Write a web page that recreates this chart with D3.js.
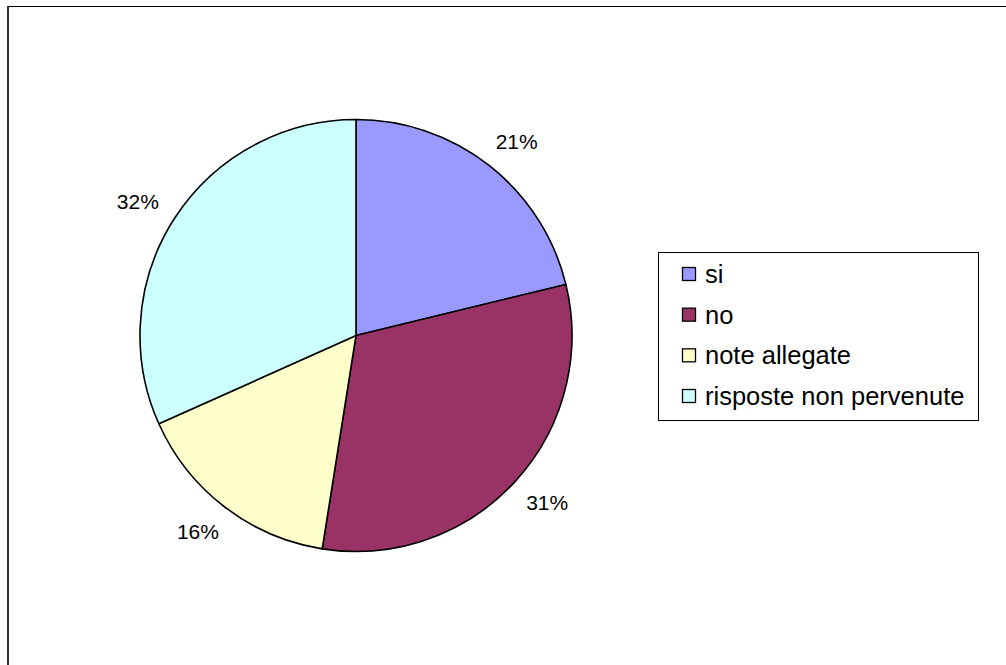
<!DOCTYPE html>
<html>
<head>
<meta charset="utf-8">
<script src="https://cdn.jsdelivr.net/npm/d3@7"></script>
<style>
html,body{margin:0;padding:0;background:#fff;}
svg{display:block;font-family:"Liberation Sans",Arial,Helvetica,sans-serif;}
</style>
</head>
<body>
<svg id="chart" width="1006" height="665"></svg>
<script>
const categories = ["si", "no", "note allegate", "risposte non pervenute"];
const values = [21.2, 31.3, 15.8, 31.7];
const labels = ["21%", "31%", "16%", "32%"];
const colors = ["#9999FF", "#993366", "#FFFFCC", "#CCFFFF"];

const svg = d3.select("#chart");

// outer frame
svg.append("line").attr("x1", 8).attr("y1", 6.5).attr("x2", 1006).attr("y2", 6.5)
  .attr("stroke", "#000").attr("stroke-width", 1);
svg.append("line").attr("x1", 8).attr("y1", 6).attr("x2", 8).attr("y2", 665)
  .attr("stroke", "#333").attr("stroke-width", 2);

const cx = 356, cy = 335.5, r = 216;
const labelRx = 260, labelRy = 247;

const pie = d3.pie().sort(null).value(d => d)(values);
const arc = d3.arc().innerRadius(0).outerRadius(r);
const g = svg.append("g").attr("transform", `translate(${cx},${cy})`);

g.selectAll("path.slice").data(pie).enter().append("path")
  .attr("class", "slice")
  .attr("d", arc)
  .attr("fill", (d, i) => colors[i])
  .attr("stroke", "#000")
  .attr("stroke-width", 1.6)
  .attr("stroke-linejoin", "round");

g.selectAll("text.lbl").data(pie).enter().append("text")
  .attr("class", "lbl")
  .attr("transform", d => {
    const a = (d.startAngle + d.endAngle) / 2;
    return `translate(${labelRx * Math.sin(a)},${-labelRy * Math.cos(a)})`;
  })
  .attr("text-anchor", "middle")
  .attr("dominant-baseline", "central")
  .attr("font-size", 21)
  .attr("fill", "#000")
  .text((d, i) => labels[i]);

// legend
const lg = svg.append("g");
lg.append("rect").attr("x", 658.5).attr("y", 252.5).attr("width", 320).attr("height", 168)
  .attr("fill", "#fff").attr("stroke", "#000").attr("stroke-width", 1);
const rowY = d3.scalePoint().domain(categories).range([274, 396]);
const items = lg.selectAll("g.item").data(categories).enter().append("g").attr("class", "item")
  .attr("transform", d => `translate(0,${rowY(d)})`);
items.append("rect").attr("x", 682.5).attr("y", -6.5).attr("width", 13).attr("height", 13)
  .attr("fill", (d, i) => colors[i]).attr("stroke", "#000").attr("stroke-width", 1.3);
items.append("text").attr("x", 705).attr("y", 0)
  .attr("dominant-baseline", "central")
  .attr("font-size", 25.5)
  .attr("fill", "#000")
  .text(d => d);
</script>
</body>
</html>
